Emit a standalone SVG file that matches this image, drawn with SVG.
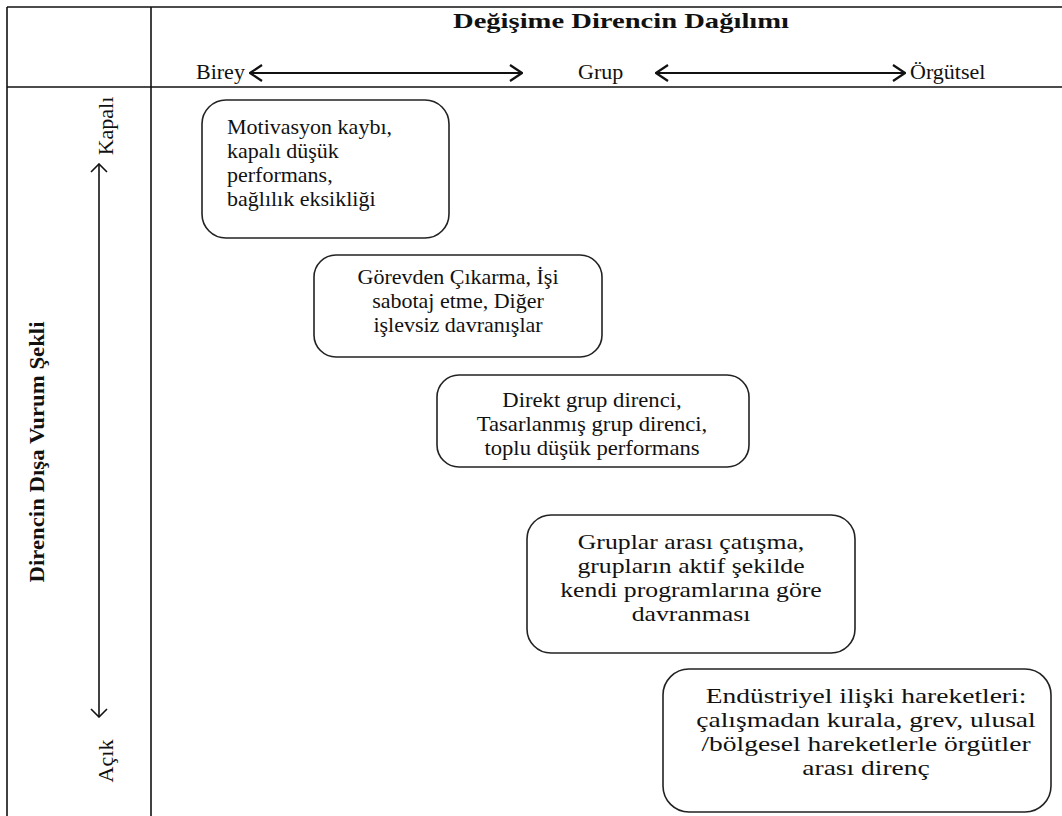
<svg xmlns="http://www.w3.org/2000/svg" width="1062" height="816" viewBox="0 0 1062 816">
<style>
.t{font-family:'Liberation Serif','Times New Roman',Times,Tinos,'Noto Serif','DejaVu Serif',FreeSerif,serif;font-size:22px;fill:#111}
.b{font-weight:bold}
.c{text-anchor:middle}
.box{fill:#fff;stroke:#222;stroke-width:1.6}
.ln{stroke:#111;stroke-width:1.6;fill:none}
.ar{stroke:#111;stroke-width:2;fill:none}
</style>
<defs>
<marker id="ah" viewBox="0 0 14 18" refX="13" refY="9" markerWidth="14" markerHeight="18" markerUnits="userSpaceOnUse" orient="auto-start-reverse">
<path d="M1,1 L13,9 L1,17" fill="none" stroke="#111" stroke-width="2.2"/>
</marker>
<marker id="ah2" viewBox="0 0 10 18" refX="9" refY="9" markerWidth="10" markerHeight="18" markerUnits="userSpaceOnUse" orient="auto-start-reverse">
<path d="M1,1 L9,9 L1,17" fill="none" stroke="#111" stroke-width="1.6"/>
</marker>
</defs>
<rect width="1062" height="816" fill="#fff"/>
<g id="table">
<line class="ln" x1="7" y1="7" x2="1062" y2="7"/>
<line class="ln" x1="7" y1="87" x2="1062" y2="87"/>
<line class="ln" x1="7" y1="7" x2="7" y2="816"/>
<line class="ln" x1="151" y1="7" x2="151" y2="816"/>
</g>
<g id="header">
<text class="t b c" x="621" y="28" textLength="336" lengthAdjust="spacingAndGlyphs">Değişime Direncin Dağılımı</text>
<text class="t" x="196" y="79">Birey</text>
<text class="t" x="578" y="79">Grup</text>
<text class="t" x="910" y="79">Örgütsel</text>
</g>
<g id="side">
<text class="t b c" transform="translate(44,452) rotate(-90)" textLength="261" lengthAdjust="spacingAndGlyphs">Direncin Dışa Vurum Şekli</text>
<text class="t c" transform="translate(113,126) rotate(-90)">Kapalı</text>
<text class="t c" transform="translate(113,761) rotate(-90)">Açık</text>
</g>
<g id="connectors">
<line class="ar" x1="250" y1="73" x2="522" y2="73" marker-start="url(#ah)" marker-end="url(#ah)"/>
<line class="ar" x1="656" y1="73" x2="905" y2="73" marker-start="url(#ah)" marker-end="url(#ah)"/>
<line class="ln" x1="99" y1="164" x2="99" y2="717" marker-start="url(#ah2)" marker-end="url(#ah2)"/>
</g>
<g id="n1">
<rect class="box" x="202" y="100" width="247" height="138" rx="24"/>
<text class="t" x="227" y="134">Motivasyon kaybı,</text>
<text class="t" x="227" y="158">kapalı düşük</text>
<text class="t" x="227" y="182">performans,</text>
<text class="t" x="227" y="206">bağlılık eksikliği</text>
</g>
<g id="n2">
<rect class="box" x="314" y="255" width="288" height="102" rx="22"/>
<text class="t c" x="458" y="284">Görevden Çıkarma, İşi</text>
<text class="t c" x="458" y="308">sabotaj etme, Diğer</text>
<text class="t c" x="458" y="332">işlevsiz davranışlar</text>
</g>
<g id="n3">
<rect class="box" x="437" y="375" width="312" height="92" rx="22"/>
<g transform="translate(592,0) scale(1.03,1)">
<text class="t c" x="0" y="407">Direkt grup direnci,</text>
<text class="t c" x="0" y="431">Tasarlanmış grup direnci,</text>
<text class="t c" x="0" y="455">toplu düşük performans</text>
</g>
</g>
<g id="n4">
<rect class="box" x="527" y="515" width="328" height="138" rx="24"/>
<g transform="translate(691,0) scale(1.17,1)">
<text class="t c" x="0" y="549">Gruplar arası çatışma,</text>
<text class="t c" x="0" y="573">grupların aktif şekilde</text>
<text class="t c" x="0" y="597">kendi programlarına göre</text>
<text class="t c" x="0" y="621">davranması</text>
</g>
</g>
<g id="n5">
<rect class="box" x="663" y="669" width="388" height="143" rx="26"/>
<g transform="translate(866,0) scale(1.25,1)">
<text class="t c" x="0" y="703">Endüstriyel ilişki hareketleri:</text>
<text class="t c" x="0" y="727">çalışmadan kurala, grev, ulusal</text>
<text class="t c" x="0" y="751">/bölgesel hareketlerle örgütler</text>
<text class="t c" x="0" y="775">arası direnç</text>
</g>
</g>
</svg>
